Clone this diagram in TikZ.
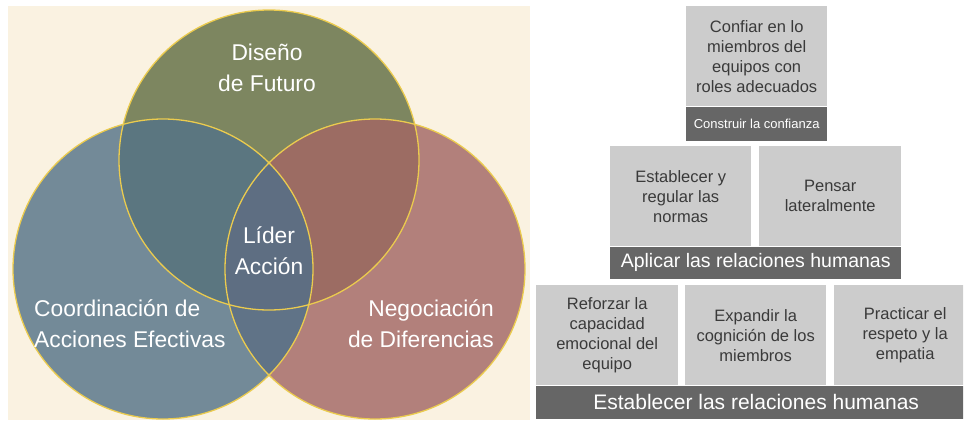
\documentclass[tikz,border=0pt]{standalone}
\usepackage{fontspec}
\setmainfont{Liberation Sans}
\definecolor{cream}{HTML}{FAF2E1}
\definecolor{topgreen}{HTML}{7D8660}
\definecolor{leftblue}{HTML}{738A98}
\definecolor{rightrose}{HTML}{B2807B}
\definecolor{topleft}{HTML}{5B7680}
\definecolor{topright}{HTML}{9C6C63}
\definecolor{leftright}{HTML}{607387}
\definecolor{core}{HTML}{5E6E82}
\definecolor{rim}{HTML}{EBCB4E}
\definecolor{cellgray}{HTML}{CCCCCC}
\definecolor{bandgray}{HTML}{666666}
\definecolor{inkgray}{HTML}{3A3A3A}
\begin{document}
\begin{tikzpicture}[x=1pt, y=-1pt,
    venn/.style={text=white, inner sep=0pt, font=\fontsize{22.8}{31}\selectfont},
    cell/.style={fill=cellgray, text=inkgray, anchor=north west, inner sep=0pt,
        minimum width=141pt, minimum height=100pt, align=center,
        font=\fontsize{16.5}{20}\selectfont},
    band/.style={fill=bandgray, text=white, anchor=north west, inner sep=0pt}]
    \useasboundingbox (0,0) rectangle (966,421);

    % Venn panel
    \fill[cream] (8,6) rectangle (530,420);

    \coordinate (top) at (269,160);
    \coordinate (left) at (163,269);
    \coordinate (right) at (375,269);

    \fill[topgreen] (top) circle[radius=150pt];
    \fill[leftblue] (left) circle[radius=150pt];
    \fill[rightrose] (right) circle[radius=150pt];
    \begin{scope}
        \clip (top) circle[radius=150pt];
        \fill[topleft] (left) circle[radius=150pt];
    \end{scope}
    \begin{scope}
        \clip (top) circle[radius=150pt];
        \fill[topright] (right) circle[radius=150pt];
    \end{scope}
    \begin{scope}
        \clip (left) circle[radius=150pt];
        \fill[leftright] (right) circle[radius=150pt];
    \end{scope}
    \begin{scope}
        \clip (top) circle[radius=150pt];
        \clip (left) circle[radius=150pt];
        \fill[core] (right) circle[radius=150pt];
    \end{scope}
    \foreach \c in {top,left,right} {
        \draw[rim, line width=1.3pt] (\c) circle[radius=150pt];
    }

    \node[venn, align=center] (future) at (267,68) {Diseño\\de Futuro};
    \node[venn, align=center] (leader) at (269,251) {Líder\\Acción};
    \node[venn, align=left, anchor=west] (coordination) at (34,324) {Coordinación de\\Acciones Efectivas};
    \node[venn, align=right, anchor=east] (negotiation) at (494,324) {Negociación\\de Diferencias};

    % pyramid of boxes
    \node[cell] (trust) at (686,6) {Confiar en lo\\miembros del\\equipos con\\roles adecuados};
    \node[band, minimum width=141pt, minimum height=34pt,
        font=\fontsize{13}{15}\selectfont] (trustbar) at (trust.south west) {Construir la confianza};

    \node[cell] (norms) at (610,146) {Establecer y\\regular las\\normas};
    \node[cell, minimum width=142pt] (lateral) at (759,146) {Pensar\\lateralmente};
    \node[band, minimum width=291pt, minimum height=32pt,
        font=\fontsize{19.5}{22}\selectfont] (applybar) at (norms.south west) {Aplicar las relaciones humanas};

    \begin{scope}
        \clip (530,0) rectangle (963,421);
        \node[cell, minimum width=142pt] (emotion) at (536,285) {Reforzar la\\capacidad\\emocional del\\equipo};
        \node[cell] (cognition) at (685,285) {Expandir la\\cognición de los\\miembros};
        \node[cell, minimum width=142pt] (respect) at (834,285) {Practicar el\\respeto y la\\empatia};
        \node[band, minimum width=440pt, minimum height=33pt,
            font=\fontsize{21}{24}\selectfont] (basebar) at (emotion.south west) {Establecer las relaciones humanas};
    \end{scope}
\end{tikzpicture}
\end{document}
